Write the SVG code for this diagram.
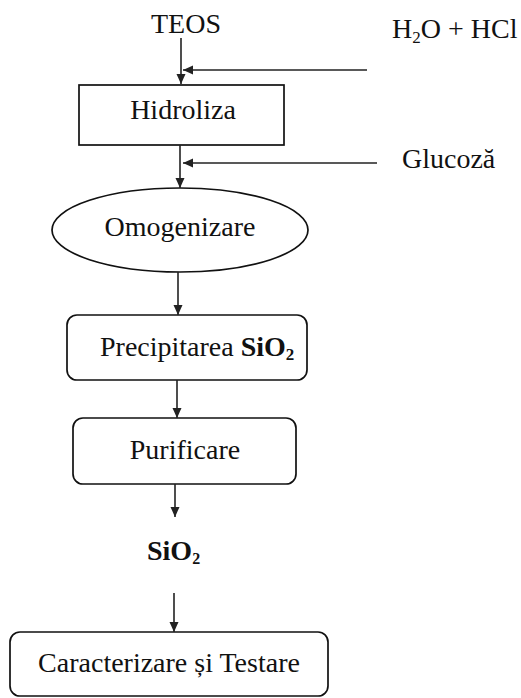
<svg xmlns="http://www.w3.org/2000/svg" width="521" height="698" viewBox="0 0 521 698">
<style>
text{font-family:"Liberation Serif","Times New Roman",serif;font-size:28px;fill:#111}
.b{font-weight:bold}
.shape{fill:#fff;stroke:#111;stroke-width:1.7}
.conn line{stroke:#222;stroke-width:1.6}
</style>
<defs>
<marker id="ah" markerUnits="userSpaceOnUse" markerWidth="10" markerHeight="10" refX="10" refY="5" orient="auto">
<path d="M0,0.5 L10,5 L0,9.5 z" fill="#222"/>
</marker>
</defs>
<rect width="521" height="698" fill="#fff"/>
<g id="teos"><text x="186" y="33" text-anchor="middle" font-size="27">TEOS</text></g>
<g id="h2o-hcl"><text x="392" y="38" font-size="27">H<tspan font-size="17" dy="5">2</tspan><tspan dy="-5">O + HCl</tspan></text></g>
<g id="glucoza"><text x="402" y="168">Glucoză</text></g>
<g id="hidroliza">
<rect class="shape" x="79" y="85" width="205" height="60"/>
<text x="183" y="119" text-anchor="middle">Hidroliza</text>
</g>
<g id="omogenizare">
<ellipse class="shape" cx="180" cy="230" rx="128" ry="42"/>
<text x="180" y="236" text-anchor="middle">Omogenizare</text>
</g>
<g id="precipitarea">
<rect class="shape" x="67" y="315" width="240" height="65" rx="10"/>
<text x="100" y="356">Precipitarea <tspan class="b">SiO<tspan font-size="17" dy="4">2</tspan></tspan></text>
</g>
<g id="purificare">
<rect class="shape" x="73" y="418" width="223" height="66" rx="10"/>
<text x="185" y="459" text-anchor="middle">Purificare</text>
</g>
<g id="sio2"><text class="b" x="147" y="560" font-size="24">SiO<tspan font-size="16" dy="4">2</tspan></text></g>
<g id="caracterizare">
<rect class="shape" x="10" y="632" width="318" height="64" rx="10"/>
<text x="169" y="672" text-anchor="middle">Caracterizare și Testare</text>
</g>
<g id="connectors" class="conn">
<line x1="181" y1="38" x2="181" y2="84" marker-end="url(#ah)"/>
<line x1="367" y1="70" x2="183" y2="70" marker-end="url(#ah)"/>
<line x1="180" y1="145" x2="180" y2="188" marker-end="url(#ah)"/>
<line x1="377" y1="163" x2="183" y2="163" marker-end="url(#ah)"/>
<line x1="178" y1="272" x2="178" y2="315" marker-end="url(#ah)"/>
<line x1="177" y1="380" x2="177" y2="418" marker-end="url(#ah)"/>
<line x1="175" y1="484" x2="175" y2="517" marker-end="url(#ah)"/>
<line x1="174" y1="593" x2="174" y2="632" marker-end="url(#ah)"/>
</g>
</svg>
